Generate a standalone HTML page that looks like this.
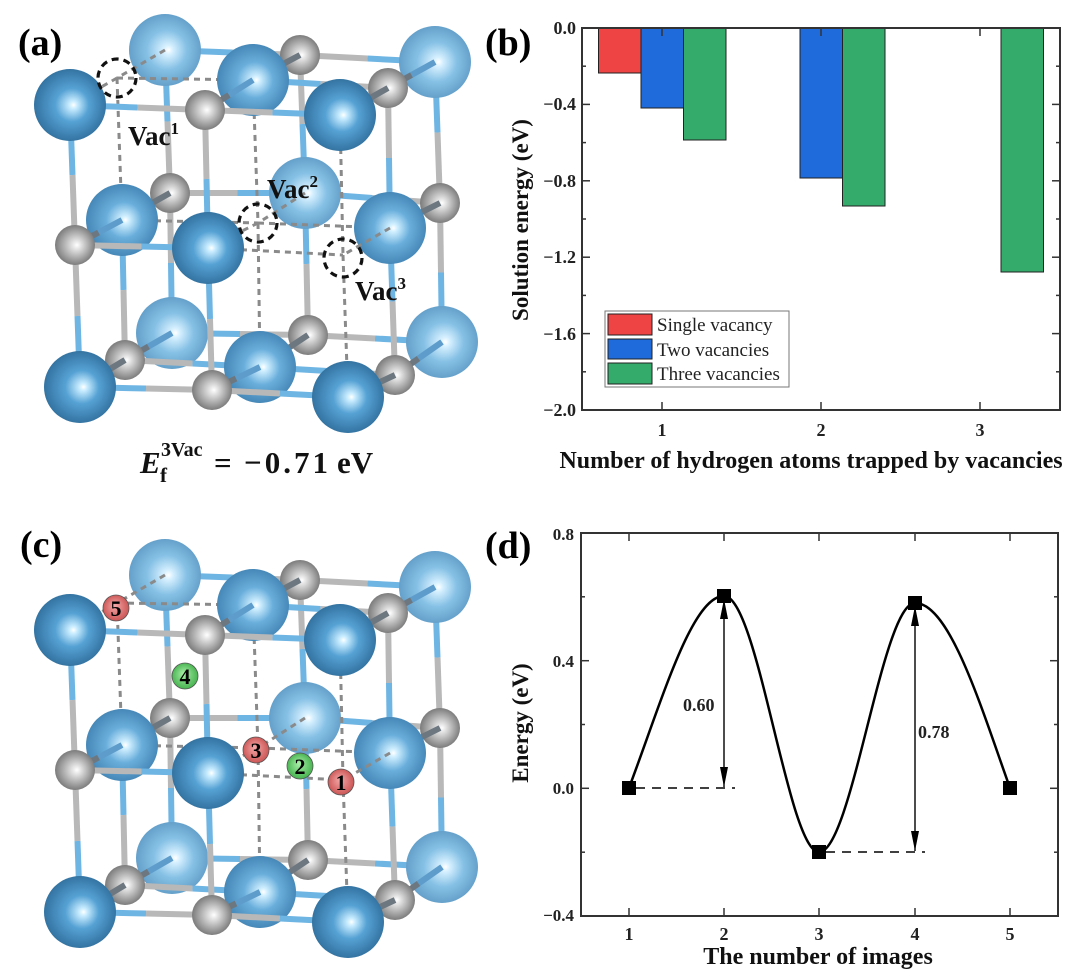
<!DOCTYPE html>
<html><head><meta charset="utf-8"><style>
html,body{margin:0;padding:0;background:#fff;}
svg{display:block;}
text{font-family:"Liberation Serif",serif;}
</style></head><body>
<svg id="s" width="1080" height="974" viewBox="0 0 1080 974" xmlns="http://www.w3.org/2000/svg">
<defs>
<radialGradient id="bf" cx="0.5" cy="0.5" r="0.55" fx="0.55" fy="0.5">
<stop offset="0" stop-color="#ffffff"/><stop offset="0.1" stop-color="#c8ecff"/><stop offset="0.42" stop-color="#56a2d4"/><stop offset="1" stop-color="#2d6b99"/></radialGradient>
<radialGradient id="bm" cx="0.5" cy="0.5" r="0.55" fx="0.55" fy="0.5">
<stop offset="0" stop-color="#ffffff"/><stop offset="0.1" stop-color="#d0efff"/><stop offset="0.45" stop-color="#6aafdc"/><stop offset="1" stop-color="#3f80b0"/></radialGradient>
<radialGradient id="bb" cx="0.5" cy="0.5" r="0.55" fx="0.55" fy="0.5">
<stop offset="0" stop-color="#ffffff"/><stop offset="0.12" stop-color="#d6f0ff"/><stop offset="0.5" stop-color="#86c1e5"/><stop offset="1" stop-color="#5d99c4"/></radialGradient>
<radialGradient id="gg" cx="0.5" cy="0.5" r="0.55" fx="0.55" fy="0.5">
<stop offset="0" stop-color="#ffffff"/><stop offset="0.3" stop-color="#d4d4d4"/><stop offset="1" stop-color="#6f6f6f"/></radialGradient>
<radialGradient id="rr" cx="0.5" cy="0.5" r="0.55" fx="0.45" fy="0.4">
<stop offset="0" stop-color="#f4a8a8"/><stop offset="1" stop-color="#c94f4f"/></radialGradient>
<radialGradient id="gr" cx="0.5" cy="0.5" r="0.55" fx="0.45" fy="0.4">
<stop offset="0" stop-color="#a8f0a8"/><stop offset="1" stop-color="#3fae48"/></radialGradient>
</defs>
<g id="latA"></g>
<g id="latC"></g>

<g fill="none" stroke="#111" stroke-width="3.2" stroke-dasharray="7,5">
<circle cx="117" cy="78" r="19"/><circle cx="258" cy="223" r="19"/><circle cx="343" cy="258" r="19"/>
</g>
<g font-weight="bold" font-size="27" fill="#111">
<text x="128" y="145">Vac<tspan font-size="17" dy="-11">1</tspan></text>
<text x="267" y="198">Vac<tspan font-size="17" dy="-11">2</tspan></text>
<text x="355" y="300">Vac<tspan font-size="17" dy="-11">3</tspan></text>
</g>
<text x="18" y="55" font-size="38" font-weight="bold">(a)</text>
<text x="20" y="557" font-size="38" font-weight="bold">(c)</text>
<g font-weight="bold" fill="#111">
<text x="140" y="473" font-size="31" font-style="italic">E</text>
<text x="160" y="482" font-size="21">f</text>
<text x="161" y="456" font-size="20">3Vac</text>
<text x="214" y="473" font-size="31">=</text>
<text x="244" y="473" font-size="31" textLength="84" lengthAdjust="spacing">−0.71</text>
<text x="337" y="473" font-size="31">eV</text>
</g>

<g stroke="#555" stroke-width="0.8">
<circle cx="116" cy="608" r="13" fill="url(#rr)"/>
<circle cx="256" cy="750" r="13" fill="url(#rr)"/>
<circle cx="341" cy="782" r="13" fill="url(#rr)"/>
<circle cx="185" cy="676" r="13" fill="url(#gr)"/>
<circle cx="300" cy="766" r="13" fill="url(#gr)"/>
</g>
<g font-size="22" font-weight="bold" text-anchor="middle" fill="#000">
<text x="116" y="616">5</text><text x="256" y="758">3</text><text x="341" y="790">1</text>
<text x="185" y="684">4</text><text x="300" y="774">2</text>
</g>

<text x="485" y="55" font-size="38" font-weight="bold">(b)</text>
<g stroke="#222" stroke-width="1">
<rect x="598.5" y="28" width="42.5" height="45" fill="#ee4444"/>
<rect x="641" y="28" width="42.5" height="80" fill="#1f6bdc"/>
<rect x="683.5" y="28" width="42.5" height="112" fill="#34aa6b"/>
<rect x="800" y="28" width="42.5" height="150" fill="#1f6bdc"/>
<rect x="842.5" y="28" width="42.5" height="178" fill="#34aa6b"/>
<rect x="1001" y="28" width="42.5" height="244" fill="#34aa6b"/>
</g>
<rect x="582" y="28" width="478" height="382" fill="none" stroke="#333" stroke-width="2"/>
<g stroke="#333" stroke-width="1.5">
<line x1="582" y1="104.4" x2="590" y2="104.4"/><line x1="582" y1="180.8" x2="590" y2="180.8"/><line x1="582" y1="257.2" x2="590" y2="257.2"/><line x1="582" y1="333.6" x2="590" y2="333.6"/>
<line x1="582" y1="66.2" x2="586" y2="66.2"/><line x1="582" y1="142.6" x2="586" y2="142.6"/><line x1="582" y1="219" x2="586" y2="219"/><line x1="582" y1="295.4" x2="586" y2="295.4"/><line x1="582" y1="371.8" x2="586" y2="371.8"/>
<line x1="1060" y1="104.4" x2="1052" y2="104.4"/><line x1="1060" y1="180.8" x2="1052" y2="180.8"/><line x1="1060" y1="257.2" x2="1052" y2="257.2"/><line x1="1060" y1="333.6" x2="1052" y2="333.6"/>
<line x1="1060" y1="66.2" x2="1056" y2="66.2"/><line x1="1060" y1="142.6" x2="1056" y2="142.6"/><line x1="1060" y1="219" x2="1056" y2="219"/><line x1="1060" y1="295.4" x2="1056" y2="295.4"/><line x1="1060" y1="371.8" x2="1056" y2="371.8"/>
<line x1="662" y1="410" x2="662" y2="402"/><line x1="821" y1="410" x2="821" y2="402"/><line x1="980" y1="410" x2="980" y2="402"/>
<line x1="662" y1="28" x2="662" y2="36"/><line x1="821" y1="28" x2="821" y2="36"/><line x1="980" y1="28" x2="980" y2="36"/>
</g>
<g font-size="18" font-weight="bold" text-anchor="end" fill="#222">
<text x="576" y="34">0.0</text><text x="576" y="110">−0.4</text><text x="576" y="187">−0.8</text><text x="576" y="263">−1.2</text><text x="576" y="340">−1.6</text><text x="576" y="416">−2.0</text>
</g>
<g font-size="18" font-weight="bold" text-anchor="middle" fill="#222">
<text x="662" y="436">1</text><text x="821" y="436">2</text><text x="980" y="436">3</text>
</g>
<text x="811" y="468" font-size="24" font-weight="bold" text-anchor="middle" fill="#111">Number of hydrogen atoms trapped by vacancies</text>
<text transform="translate(528,220) rotate(-90)" font-size="23" font-weight="bold" text-anchor="middle" fill="#111">Solution energy (eV)</text>
<rect x="605" y="311" width="184" height="76" fill="#fff" stroke="#777" stroke-width="1"/>
<g stroke="#222" stroke-width="1">
<rect x="608" y="314" width="44" height="21" fill="#ee4444"/>
<rect x="608" y="339" width="44" height="20" fill="#1f6bdc"/>
<rect x="608" y="363" width="44" height="21" fill="#34aa6b"/>
</g>
<g font-size="19" fill="#222">
<text x="657" y="331">Single vacancy</text><text x="657" y="356">Two vacancies</text><text x="657" y="380">Three vacancies</text>
</g>

<text x="485" y="558" font-size="38" font-weight="bold">(d)</text>
<rect x="581" y="533" width="477" height="383" fill="none" stroke="#333" stroke-width="2"/>
<g stroke="#333" stroke-width="1.5">
<line x1="581" y1="660.7" x2="589" y2="660.7"/><line x1="581" y1="788.3" x2="589" y2="788.3"/>
<line x1="581" y1="596.8" x2="585" y2="596.8"/><line x1="581" y1="724.5" x2="585" y2="724.5"/><line x1="581" y1="852.2" x2="585" y2="852.2"/>
<line x1="1058" y1="660.7" x2="1050" y2="660.7"/><line x1="1058" y1="788.3" x2="1050" y2="788.3"/>
<line x1="1058" y1="596.8" x2="1054" y2="596.8"/><line x1="1058" y1="724.5" x2="1054" y2="724.5"/><line x1="1058" y1="852.2" x2="1054" y2="852.2"/>
<line x1="629" y1="916" x2="629" y2="908"/><line x1="724" y1="916" x2="724" y2="908"/><line x1="819" y1="916" x2="819" y2="908"/><line x1="915" y1="916" x2="915" y2="908"/><line x1="1010" y1="916" x2="1010" y2="908"/>
<line x1="629" y1="533" x2="629" y2="541"/><line x1="724" y1="533" x2="724" y2="541"/><line x1="819" y1="533" x2="819" y2="541"/><line x1="915" y1="533" x2="915" y2="541"/><line x1="1010" y1="533" x2="1010" y2="541"/>
</g>
<g font-size="17" font-weight="bold" text-anchor="end" fill="#222">
<text x="574" y="540">0.8</text><text x="574" y="667">0.4</text><text x="574" y="794">0.0</text><text x="574" y="921">−0.4</text>
</g>
<g font-size="18" font-weight="bold" text-anchor="middle" fill="#222">
<text x="629" y="940">1</text><text x="724" y="940">2</text><text x="819" y="940">3</text><text x="915" y="940">4</text><text x="1010" y="940">5</text>
</g>
<text x="818" y="964" font-size="24" font-weight="bold" text-anchor="middle" fill="#111">The number of images</text>
<text transform="translate(528,723) rotate(-90)" font-size="23" font-weight="bold" text-anchor="middle" fill="#111">Energy (eV)</text>
<path d="M629,788 C662,700 692,596 724,596 C758,596 788,852 819,852 C852,852 882,603 915,603 C950,603 982,710 1010,788" fill="none" stroke="#000" stroke-width="2.5"/>
<g stroke="#000" stroke-width="1.6" stroke-dasharray="9,7">
<line x1="636" y1="788" x2="735" y2="788"/><line x1="826" y1="852" x2="925" y2="852"/>
</g>
<g stroke="#000" stroke-width="1.4">
<line x1="724" y1="603" x2="724" y2="787"/>
<line x1="915" y1="610" x2="915" y2="851"/>
</g>
<g fill="#000">
<polygon points="724,599 720,619 728,619"/><polygon points="724,787 720,767 728,767"/>
<polygon points="915,606 911,626 919,626"/><polygon points="915,851 911,831 919,831"/>
</g>
<g fill="#000">
<rect x="622" y="781" width="14" height="14"/><rect x="717" y="589" width="14" height="14"/><rect x="812" y="845" width="14" height="14"/><rect x="908" y="596" width="14" height="14"/><rect x="1003" y="781" width="14" height="14"/>
</g>
<g font-size="18" font-weight="bold" fill="#222">
<text x="683" y="711">0.60</text><text x="918" y="738">0.78</text>
</g>
</svg>
<script>
(function(){
var NS="http://www.w3.org/2000/svg";
var L={
B:[[165,50,'b'],[300,55,'g'],[435,62,'b'],[170,193,'g'],[305,193,'b'],[440,203,'g'],[172,333,'b'],[308,335,'g'],[442,342,'b']],
M:[[117,78,'v'],[253,80,'b'],[388,88,'g'],[122,220,'b'],[258,223,'v'],[390,228,'b'],[125,360,'g'],[260,367,'b'],[395,375,'g']],
F:[[70,105,'b'],[205,110,'g'],[340,115,'b'],[75,245,'g'],[208,248,'b'],[343,255,'v'],[80,387,'b'],[212,390,'g'],[348,397,'b']]};
var grad={B:'bb',M:'bm',F:'bf'};
function el(t,a,p){var e=document.createElementNS(NS,t);for(var k in a)e.setAttribute(k,a[k]);p.appendChild(e);return e;}
function bond(p,q,g,dy,dep){
 if(p[2]=='v'||q[2]=='v'){el('line',{x1:p[0],y1:p[1]+dy,x2:q[0],y2:q[1]+dy,stroke:'#8a8a8a','stroke-width':3,'stroke-dasharray':'6,5'},g);return;}
 var mx=(p[0]+q[0])/2,my=(p[1]+q[1])/2;
 var gc=dep?'#6d7780':'#b8b8b8', bc=dep?'#5e9ccc':'#6fb5e3';
 el('line',{x1:p[0],y1:p[1]+dy,x2:mx,y2:my+dy,stroke:p[2]=='b'?bc:gc,'stroke-width':6},g);
 el('line',{x1:mx,y1:my+dy,x2:q[0],y2:q[1]+dy,stroke:q[2]=='b'?bc:gc,'stroke-width':6},g);
}
function inplane(A,g,dy){for(var i=0;i<3;i++)for(var j=0;j<3;j++){var k=i*3+j;if(j<2)bond(A[k],A[k+1],g,dy);if(i<2)bond(A[k],A[k+3],g,dy);}}
function depth(A,C,g,dy){for(var k=0;k<9;k++)bond(A[k],C[k],g,dy,true);}
function spheres(A,key,g,dy){A.forEach(function(p){
 if(p[2]=='b')el('circle',{cx:p[0],cy:p[1]+dy,r:36,fill:'url(#'+grad[key]+')'},g);
 else if(p[2]=='g')el('circle',{cx:p[0],cy:p[1]+dy,r:20,fill:'url(#gg)'},g);});}
function draw(id,dy){var g=document.getElementById(id);
 inplane(L.B,g,dy);spheres(L.B,'B',g,dy);depth(L.B,L.M,g,dy);
 inplane(L.M,g,dy);spheres(L.M,'M',g,dy);depth(L.M,L.F,g,dy);
 inplane(L.F,g,dy);spheres(L.F,'F',g,dy);}
draw('latA',0);draw('latC',525);
})();
</script>
</body></html>
